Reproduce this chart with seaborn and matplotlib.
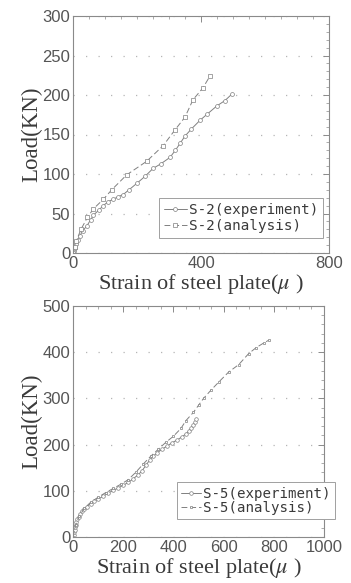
import matplotlib
matplotlib.use("Agg")
import matplotlib.pyplot as plt
import pandas as pd
import seaborn as sns
from matplotlib.ticker import MultipleLocator

sns.set_theme(style="white")
plt.rcParams['font.family'] = ['Liberation Sans', 'DejaVu Sans']
plt.rcParams['mathtext.fontset'] = 'stix'

# ---- S-2 specimen: load vs. strain of steel plate ----
s2_exp_strain = [0, 3, 6, 10, 15, 22, 30, 43, 55, 64, 80, 95, 110, 126, 140, 157,
                 175, 199, 225, 250, 275, 303, 320, 335, 350, 370, 397, 420, 449,
                 475, 496]
s2_exp_load = [0, 3, 6, 12, 17, 22, 28, 34, 42, 48, 54, 60, 65, 68, 71, 74,
               80, 88, 97, 107, 113, 121, 130, 139, 148, 157, 168, 176, 186,
               193, 201]
s2_ana_strain = [0, 5, 10, 25, 45, 64, 95, 121, 168, 230, 282, 319, 350, 375,
                 406, 428]
s2_ana_load = [0, 8, 15, 30, 45, 56, 68, 80, 99, 116, 136, 156, 172, 194,
               209, 224]

# ---- S-5 specimen ----
s5_exp_strain = [0, 2, 4, 6, 8, 10, 13, 17, 22, 28, 35, 45, 55, 70, 85, 100,
                 120, 140, 160, 180, 200, 220, 240, 260, 275, 290, 305, 320,
                 335, 355, 375, 395, 415, 435, 450, 462, 472, 480, 486, 490]
s5_exp_load = [0, 5, 10, 16, 22, 27, 33, 38, 44, 50, 56, 61, 66, 72, 77, 82,
               88, 95, 101, 106, 112, 118, 126, 135, 143, 155, 166, 175,
               182, 190, 197, 204, 210, 217, 223, 230, 237, 243, 249, 255]
s5_ana_strain = [0, 10, 25, 45, 70, 100, 130, 160, 190, 220, 250, 280, 310,
                 340, 370, 400, 430, 450, 480, 500, 520, 550, 580, 620, 660,
                 700, 730, 760, 780]
s5_ana_load = [0, 25, 45, 62, 75, 86, 96, 105, 114, 124, 140, 158, 175,
               190, 205, 218, 235, 252, 270, 285, 300, 318, 335, 357, 373,
               397, 410, 420, 426]

LINE = "#808080"
TEXT = "#3a3a3a"
TICK = "#555555"

fig = plt.figure(figsize=(3.51, 5.83), dpi=100)
ax1 = fig.add_axes([73 / 351, 1 - 253 / 583, 256 / 351, 237 / 583])
ax2 = fig.add_axes([73 / 351, 1 - 537 / 583, 251 / 351, 231 / 583])


def draw(ax, es, el, as_, al, name, msize):
    exp = pd.DataFrame({"strain": es, "load": el})
    ana = pd.DataFrame({"strain": as_, "load": al})
    sns.lineplot(data=exp, x="strain", y="load", ax=ax, sort=False,
                 estimator=None, color=LINE, linewidth=0.7, marker="o",
                 markersize=msize, markerfacecolor="white",
                 markeredgecolor=LINE, markeredgewidth=0.5,
                 label=f"{name}(experiment)")
    sns.lineplot(data=ana, x="strain", y="load", ax=ax, sort=False,
                 estimator=None, color=LINE, linewidth=0.7, linestyle=(0, (6, 3)),
                 marker="s", markersize=msize - 0.6, markerfacecolor="white",
                 markeredgecolor=LINE, markeredgewidth=0.5,
                 label=f"{name}(analysis)")


draw(ax1, s2_exp_strain, s2_exp_load, s2_ana_strain, s2_ana_load, "S-2", 2.8)
draw(ax2, s5_exp_strain, s5_exp_load, s5_ana_strain, s5_ana_load, "S-5", 2.6)

ax1.set_xlim(0, 800)
ax1.set_ylim(0, 300)
ax1.xaxis.set_major_locator(MultipleLocator(400))
ax1.xaxis.set_minor_locator(MultipleLocator(50))
ax1.yaxis.set_major_locator(MultipleLocator(50))
ax1.yaxis.set_minor_locator(MultipleLocator(10))

ax2.set_xlim(0, 1000)
ax2.set_ylim(0, 500)
ax2.xaxis.set_major_locator(MultipleLocator(200))
ax2.xaxis.set_minor_locator(MultipleLocator(50))
ax2.yaxis.set_major_locator(MultipleLocator(100))
ax2.yaxis.set_minor_locator(MultipleLocator(20))

for ax in (ax1, ax2):
    ax.grid(True, axis="y", which="major", color="#b5b5b5",
            linestyle=(0, (1, 9)), linewidth=0.9)
    ax.grid(False, axis="x")
    for sp in ax.spines.values():
        sp.set_color("#8a8a8a")
        sp.set_linewidth(0.8)
    ax.tick_params(which="both", direction="in", top=True, right=True,
                   color="#8a8a8a", labelcolor=TICK, labelsize=12, pad=2)
    ax.tick_params(which="major", length=4, width=0.7)
    ax.tick_params(which="minor", length=2, width=0.5)
    ax.set_xlabel("Strain of steel plate($\\mu$ )", family="Liberation Serif",
                  fontsize=16, color=TEXT, labelpad=1)
    ax.set_ylabel("Load(KN)", family="Liberation Serif", fontsize=16.5,
                  color=TEXT, labelpad=0)

leg1 = ax1.legend(loc="lower right", bbox_to_anchor=(0.977, 0.063),
                  borderaxespad=0, prop={"family": "DejaVu Sans Mono", "size": 10.3},
                  handlelength=1.6, handletextpad=0.15, labelspacing=0.15,
                  borderpad=0.35, fancybox=False, framealpha=1,
                  edgecolor="#a0a0a0", labelcolor=TEXT)
leg1.get_frame().set_linewidth(0.7)

leg2 = ax2.legend(loc="lower right", bbox_to_anchor=(1.044, 0.078),
                  borderaxespad=0, prop={"family": "DejaVu Sans Mono", "size": 10.2},
                  handlelength=1.4, handletextpad=0.15, labelspacing=0.0,
                  borderpad=0.3, fancybox=False, framealpha=1,
                  edgecolor="#a0a0a0", labelcolor=TEXT)
leg2.get_frame().set_linewidth(0.7)

fig.savefig("out.png", dpi=100, facecolor="white")
